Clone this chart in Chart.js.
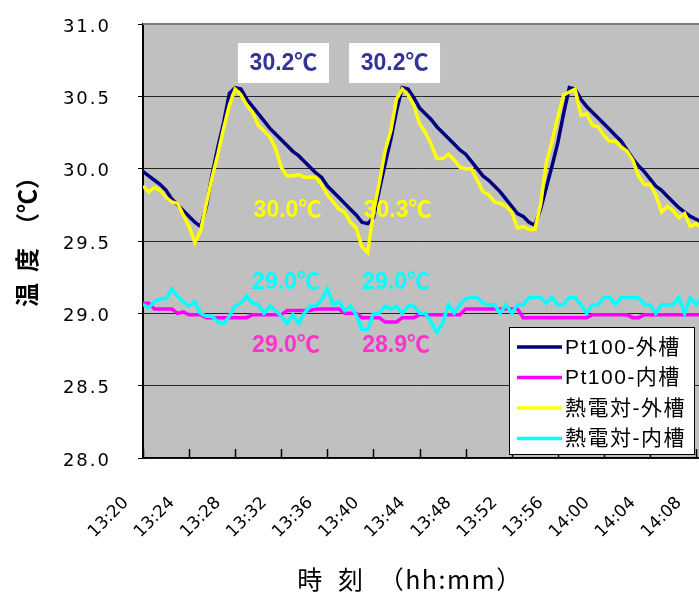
<!DOCTYPE html>
<html><head><meta charset="utf-8">
<script src="https://cdn.jsdelivr.net/npm/chart.js@4.4.1/dist/chart.umd.min.js"></script>
<style>html,body{margin:0;padding:0;background:#fff;overflow:hidden}</style>
</head><body>
<canvas id="c" width="699" height="592"></canvas>
<script>
// minutes after 13:20
const timeMin = [0,0.5,1,1.5,2,2.5,3,3.5,4,4.5,5,5.5,6,6.5,7,7.5,8,8.5,9,9.5,
 10,10.5,11,11.5,12,12.5,13,13.5,14,14.5,15,15.5,16,16.5,17,17.5,18,18.5,19,19.5,
 20,20.5,21,21.5,22,22.5,23,23.5,24,24.5,25,25.5,26,26.5,27,27.5,28,28.5,29,29.5,
 30,30.5,31,31.5,32,32.5,33,33.5,34,34.5,35,35.5,36,36.5,37,37.5,38,38.5,39,39.5,
 40,40.5,41,41.5,42,42.5,43,43.5,44,44.5,45,45.5,46,46.5,47,47.5,48,48.5];
const tickLabels = ['13:20','13:24','13:28','13:32','13:36','13:40','13:44','13:48','13:52','13:56','14:00','14:04','14:08'];
const seriesNames = ['Pt100-外槽','Pt100-内槽','熱電対-外槽','熱電対-内槽'];

const pt100Outer = [29.98,29.95,29.92,29.89,29.85,29.79,29.75,29.71,29.67,29.63,
 29.60,29.74,29.96,30.15,30.32,30.52,30.56,30.55,30.48,30.43,
 30.38,30.33,30.28,30.24,30.20,30.16,30.12,30.09,30.05,30.01,
 29.97,29.94,29.88,29.84,29.80,29.76,29.72,29.68,29.63,29.62,
 29.66,29.85,30.03,30.20,30.40,30.56,30.55,30.49,30.42,30.38,
 30.34,30.29,30.25,30.21,30.17,30.13,30.10,30.05,30.00,29.95,
 29.92,29.88,29.84,29.79,29.74,29.69,29.67,29.63,29.61,29.72,
 29.87,30.02,30.18,30.38,30.56,30.55,30.48,30.43,30.39,30.35,
 30.31,30.27,30.23,30.19,30.13,30.07,30.02,29.98,29.93,29.88,
 29.85,29.81,29.77,29.73,29.70,29.67,29.65,29.63];
const pt100Inner = [29.07,29.07,29.03,29.03,29.03,29.03,29.00,29.01,28.99,28.99,
 28.99,28.97,28.97,28.97,28.97,28.97,28.97,28.97,28.97,28.99,
 28.99,28.99,28.99,28.99,28.99,29.02,29.02,29.02,29.02,29.02,
 29.03,29.03,29.03,29.03,29.03,29.00,29.00,29.00,28.97,28.97,
 28.97,28.97,28.94,28.94,28.94,28.97,28.97,28.97,28.99,28.99,
 28.99,28.99,28.99,28.99,28.99,28.99,29.03,29.03,29.03,29.03,
 29.03,29.03,29.03,29.03,29.03,29.03,28.97,28.97,28.97,28.97,
 28.97,28.97,28.97,28.97,28.97,28.97,28.97,28.97,28.99,28.99,
 28.99,28.99,28.99,28.99,28.99,28.97,28.97,28.99,28.99,28.99,
 28.99,28.99,28.99,28.99,28.99,28.99,28.99,28.99];
const tcOuter = [29.88,29.84,29.87,29.85,29.80,29.77,29.76,29.68,29.60,29.49,
 29.57,29.76,29.94,30.10,30.28,30.44,30.55,30.51,30.44,30.39,
 30.30,30.26,30.22,30.14,30.01,29.95,29.95,29.96,29.94,29.94,
 29.94,29.89,29.82,29.77,29.72,29.70,29.63,29.59,29.46,29.42,
 29.70,29.90,30.12,30.26,30.48,30.55,30.51,30.44,30.31,30.25,
 30.17,30.07,30.07,30.10,30.06,30.01,30.00,30.00,29.92,29.84,
 29.82,29.77,29.76,29.74,29.70,29.59,29.60,29.58,29.58,29.75,
 30.04,30.19,30.36,30.51,30.53,30.55,30.37,30.38,30.30,30.29,
 30.23,30.19,30.19,30.15,30.12,30.06,29.95,29.89,29.89,29.82,
 29.70,29.74,29.71,29.66,29.69,29.60,29.62,29.59];
const tcInner = [29.06,29.04,29.08,29.10,29.10,29.17,29.12,29.08,29.05,29.08,
 29.00,28.98,28.98,28.94,28.93,28.98,29.05,29.07,29.12,29.07,
 29.06,29.00,29.05,29.02,28.98,28.93,28.99,28.93,29.00,29.05,
 29.05,29.09,29.17,29.06,29.08,29.02,29.05,28.99,28.89,28.89,
 29.00,29.00,29.05,29.03,29.05,29.00,29.05,29.05,29.00,29.00,
 28.94,28.87,28.93,29.06,29.00,29.06,29.10,29.11,29.11,29.07,
 29.06,29.06,29.00,29.06,29.00,29.06,29.06,29.11,29.11,29.11,
 29.07,29.11,29.06,29.06,29.11,29.11,29.06,29.00,29.06,29.06,
 29.11,29.11,29.06,29.11,29.11,29.11,29.11,29.06,29.06,29.00,
 29.06,29.06,29.06,29.11,29.00,29.11,29.06,29.11];

// annotation texts (value coordinates)
const notes = [
 {t:'30.2℃', x:12.19, y:30.73, c:'#333399', box:true},
 {t:'30.2℃', x:21.83, y:30.73, c:'#333399', box:true},
 {t:'30.0℃', x:12.54, y:29.714, c:'#ffff00'},
 {t:'30.3℃', x:22.09, y:29.714, c:'#ffff00'},
 {t:'29.0℃', x:12.41, y:29.219, c:'#00ffff'},
 {t:'29.0℃', x:21.96, y:29.219, c:'#00ffff'},
 {t:'29.0℃', x:12.41, y:28.781, c:'#ff33cc'},
 {t:'28.9℃', x:21.96, y:28.781, c:'#ff33cc'}
];

const colors = ['#000080','#ff00ff','#ffff00','#00ffff'];
const allSeries = [pt100Outer, pt100Inner, tcOuter, tcInner];
const orders = [3,2,1,0];
const datasets = allSeries.map((s,k)=>({
  label: seriesNames[k],
  data: s.map((v,i)=>({x: timeMin[i], y: v})),
  borderColor: colors[k], backgroundColor: colors[k],
  borderWidth: 3.5, pointRadius: 0, tension: 0, fill: false, order: orders[k]
}));

const deco = {
  id: 'deco',
  beforeDraw(chart){
    const {ctx, chartArea:a} = chart;
    ctx.save(); ctx.fillStyle = '#c0c0c0';
    ctx.fillRect(a.left, a.top, a.right-a.left, a.bottom-a.top);
    ctx.restore();
  },
  afterDraw(chart){
    const {ctx, chartArea:a, scales} = chart;
    const xs = scales.x, ys = scales.y;
    ctx.save();
    // top border
    ctx.strokeStyle = '#808080'; ctx.lineWidth = 2;
    ctx.beginPath(); ctx.moveTo(a.left, a.top); ctx.lineTo(a.right, a.top); ctx.stroke();
    // inside x ticks
    ctx.strokeStyle = '#000'; ctx.lineWidth = 1.5;
    for (let i=0;i<tickLabels.length;i++){
      const px = Math.round(xs.getPixelForValue(i*4))+0.5;
      ctx.beginPath(); ctx.moveTo(px, a.bottom); ctx.lineTo(px, a.bottom-9); ctx.stroke();
    }
    // annotations
    ctx.font = "bold 23px 'Liberation Sans', 'Noto Sans CJK JP', sans-serif";
    ctx.textAlign = 'center'; ctx.textBaseline = 'middle';
    notes.forEach(n=>{
      const px = xs.getPixelForValue(n.x), py = ys.getPixelForValue(n.y);
      if (n.box){ ctx.fillStyle = '#fff'; ctx.fillRect(px-45.5, py-20, 91, 40); }
      ctx.fillStyle = n.c; ctx.fillText(n.t, px, py+1);
    });
    // legend
    const lx = 509, ly = 327, lw = 186, lh = 128;
    ctx.fillStyle = '#fff'; ctx.fillRect(lx, ly, lw, lh);
    ctx.strokeStyle = '#000'; ctx.lineWidth = 1;
    ctx.strokeRect(lx+0.5, ly+0.5, lw-1, lh-1);
    ctx.font = "21px 'Liberation Sans', 'Noto Sans CJK JP', sans-serif";
    ctx.letterSpacing = '1.5px';
    ctx.textAlign = 'left'; ctx.textBaseline = 'middle';
    chart.data.datasets.forEach((d,i)=>{
      const ry = 347 + i*30.5;
      ctx.strokeStyle = d.borderColor; ctx.lineWidth = 3.5;
      ctx.beginPath(); ctx.moveTo(517, ry); ctx.lineTo(562, ry); ctx.stroke();
      ctx.fillStyle = '#000'; ctx.fillText(d.label, 565, ry+1);
    });
    // axis titles
    ctx.fillStyle = '#000';
    ctx.letterSpacing = '0px';
    ctx.font = "bold 24px 'Noto Sans CJK JP', sans-serif";
    ctx.save(); ctx.translate(27, 236); ctx.rotate(-Math.PI/2);
    ctx.textAlign='center'; ctx.textBaseline='middle';
    ctx.fillText('温  度  （℃）', 0, 0); ctx.restore();
    ctx.font = "25px 'Noto Sans CJK JP', sans-serif";
    ctx.letterSpacing = '1.5px';
    ctx.textAlign='center'; ctx.textBaseline='middle';
    ctx.fillText('時  刻  （hh:mm）', 410, 579);
    ctx.restore();
  }
};

const chart = new Chart(document.getElementById('c'), {
  type: 'line',
  data: {datasets},
  options: {
    responsive: false, animation: false, events: [],
    layout: {padding: {top: 24, right: 0, left: 0, bottom: 0}},
    plugins: {legend: {display: false}, tooltip: {enabled: false}, title: {display: false}},
    scales: {
      x: {
        type: 'linear', min: 0, max: 48.25,
        grid: {display: false, drawTicks: false},
        border: {display: true, color: '#000', width: 1.5},
        ticks: {stepSize: 4, includeBounds: false, autoSkip: false, minRotation: 45, maxRotation: 45,
          padding: 35, labelOffset: -17, color: '#000', font: {family: "'DejaVu Sans', sans-serif", size: 17},
          callback: (v)=> (v % 4 === 0 ? tickLabels[v/4] : '')},
        afterFit: (s)=>{ s.height = 134; s.paddingLeft = 0; s.paddingRight = 0; s.paddingTop = 0; s.paddingBottom = 0; }
      },
      y: {
        type: 'linear', min: 28, max: 31,
        grid: {color: '#262626', lineWidth: 1, drawTicks: true, tickLength: 5, tickColor: '#000'},
        border: {display: true, color: '#000', width: 2},
        ticks: {stepSize: 0.5, padding: 27, labelOffset: 3, color: '#000', font: {family: "'DejaVu Sans', sans-serif", size: 18},
          callback: (v)=> v.toFixed(1)},
        afterFit: (s)=>{ s.width = 143; s.paddingTop = 0; s.paddingBottom = 0; }
      }
    }
  },
  plugins: [deco]
});
// wider letter spacing for the value-axis labels only
const yScale = chart.scales.y;
const baseDrawLabels = yScale.drawLabels;
yScale.drawLabels = function(ca){
  const c = this.ctx; c.save(); c.letterSpacing = '2px'; baseDrawLabels.call(this, ca); c.restore();
};
chart.draw();
</script>
</body></html>
